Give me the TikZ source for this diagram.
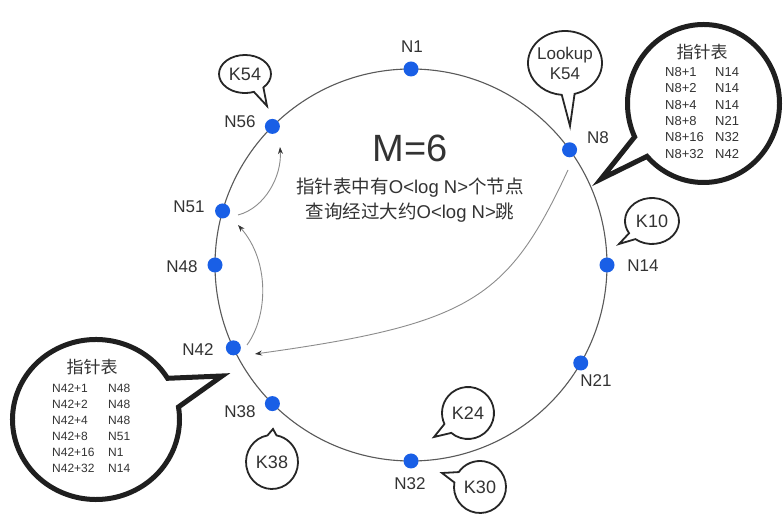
\documentclass[tikz,border=0pt]{standalone}
\usepackage{fontspec}
\setmainfont{Liberation Sans}
\newfontfamily\cjk{Noto Sans CJK SC}
\usetikzlibrary{arrows.meta,calc}
\definecolor{dotblue}{RGB}{25,95,230}
\definecolor{txt}{RGB}{51,51,51}
\begin{document}
\begin{tikzpicture}[x=1pt,y=1pt,
  ring/.style={draw=black!65, line width=1.1pt},
  ndot/.style={circle, fill=dotblue, minimum size=15pt, inner sep=0pt},
  nlabel/.style={font=\fontsize{17}{19}\selectfont, text=txt, inner sep=0pt},
  hop/.style={draw=black!45, line width=0.9pt, -{Stealth[length=7pt,width=5pt,color=black!80]}},
  bigbubble/.style={draw=black!88, line width=5pt, fill=white, line join=miter},
  smallbubble/.style={draw=black!85, line width=1.8pt, fill=white, line join=miter},
  ktext/.style={font=\fontsize{18}{21}\selectfont, text=txt, inner sep=0pt, align=center},
  tabtext/.style={text=txt, inner sep=0pt, anchor=north west, align=left},
  tabtitle/.style={font=\cjk\fontsize{17}{19}\selectfont, text=txt, inner sep=0pt},
]
\useasboundingbox (0,0) rectangle (784,516);
\fill[white] (0,0) rectangle (784,516);

% ring
\coordinate (c) at (411,251);
\draw[ring] (c) circle[radius=196];

% hops
\coordinate (h1s) at (568,346);
\coordinate (h1e) at (255,162);
\coordinate (h2s) at (247,171);
\coordinate (h2e) at (238,291);
\coordinate (h3s) at (238,301);
\coordinate (h3e) at (280,369);
\draw[hop] (h1s) .. controls (508,217) and (471,192) .. (h1e);
\draw[hop] (h2s) .. controls (268,200) and (270,255) .. (h2e);
\draw[hop] (h3s) .. controls (265,308) and (282,340) .. (h3e);

% dots
\node[ndot] (n1)  at ($(c)+(90:196)$) {};
\node[ndot] (n8)  at ($(c)+(36:196)$) {};
\node[ndot] (n14) at ($(c)+(0:196)$) {};
\node[ndot] (n21) at ($(c)+(-30:196)$) {};
\node[ndot] (n32) at ($(c)+(-90:196)$) {};
\node[ndot] (n38) at ($(c)+(-135:196)$) {};
\node[ndot] (n42) at ($(c)+(-155:196)$) {};
\node[ndot] (n48) at ($(c)+(180:196)$) {};
\node[ndot] (n51) at ($(c)+(164:196)$) {};
\node[ndot] (n56) at ($(c)+(135:196)$) {};

% labels
\node[nlabel] (l1)  at (412,469) {N1};
\node[nlabel] (l8)  at (598,378) {N8};
\node[nlabel] (l14) at (643,250) {N14};
\node[nlabel] (l21) at (596,135) {N21};
\node[nlabel] (l32) at (410,32) {N32};
\node[nlabel] (l38) at (240,104) {N38};
\node[nlabel] (l42) at (198,166) {N42};
\node[nlabel] (l48) at (182,249) {N48};
\node[nlabel] (l51) at (189,309) {N51};
\node[nlabel] (l56) at (240,394) {N56};

% centre text
\node[font=\fontsize{38}{40}\selectfont, text=txt, inner sep=0pt] (m) at (410,368) {M=6};
\node[font=\fontsize{18.5}{25}\selectfont, text=txt, inner sep=0pt, align=center] (desc) at (410,315.5)
  {{\cjk 指针表中有}O<log N>{\cjk 个节点}\\{\cjk 查询经过大约}O<log N>{\cjk 跳}};

% small bubbles
\coordinate (kc1) at (245,442); \coordinate (kt1) at (267,410);
\draw[smallbubble] ($(kc1)+(-45:26 and 19)$) arc[start angle=-45, end angle=290, x radius=26, y radius=19] -- (kt1) -- cycle;
\node[ktext] (k54) at (kc1) {K54};

\coordinate (kc2) at (565,453); \coordinate (kt2) at (570,390);
\draw[smallbubble] ($(kc2)+(-75:37 and 32)$) arc[start angle=-75, end angle=265, x radius=37, y radius=32] -- (kt2) -- cycle;
\node[ktext, font=\fontsize{17}{20}\selectfont] (lk) at (kc2) {Lookup\\K54};

\coordinate (kc3) at (652,295); \coordinate (kt3) at (619,272);
\draw[smallbubble] ($(kc3)+(232:27 and 23)$) arc[start angle=232, end angle=572, x radius=27, y radius=23] -- (kt3) -- cycle;
\node[ktext] (k10) at (kc3) {K10};

\coordinate (kc4) at (468,103); \coordinate (kt4) at (434,79);
\draw[smallbubble] ($(kc4)+(230:26 and 26)$) arc[start angle=230, end angle=565, x radius=26, y radius=26] -- (kt4) -- cycle;
\node[ktext] (k24) at (kc4) {K24};

\coordinate (kc5) at (480,29); \coordinate (kt5) at (442,43);
\draw[smallbubble] ($(kc5)+(170:26 and 26)$) arc[start angle=170, end angle=505, x radius=26, y radius=26] -- (kt5) -- cycle;
\node[ktext] (k30) at (kc5) {K30};

\coordinate (kc6) at (272,54); \coordinate (kt6) at (273,87);
\draw[smallbubble] ($(kc6)+(100:26 and 27)$) arc[start angle=100, end angle=440, x radius=26, y radius=27] -- (kt6) -- cycle;
\node[ktext] (k38) at (kc6) {K38};

% big bubble upper right
\coordinate (bc1) at (703.5,412.5); \coordinate (bt1) at (601,337);
\draw[bigbubble] ($(bc1)+(222:76 and 79)$) arc[start angle=222, end angle=565, x radius=76, y radius=79] -- (bt1) -- cycle;
\node[tabtitle] (t1) at (702,464) {指针表};
\node[tabtext, font=\fontsize{13}{16.3}\selectfont] (tab1) at (665,451) {\begin{tabular}{@{}p{50pt}@{}l@{}}
N8+1 & N14\\ N8+2 & N14\\ N8+4 & N14\\ N8+8 & N21\\ N8+16 & N32\\ N8+32 & N42
\end{tabular}};

% big bubble lower left
\coordinate (bc2) at (96,96.5); \coordinate (bt2) at (222,140);
\draw[bigbubble] ($(bc2)+(31:83.5 and 80)$) arc[start angle=31, end angle=369, x radius=83.5, y radius=80] -- (bt2) -- cycle;
\node[tabtitle] (t2) at (92,149) {指针表};
\node[tabtext, font=\fontsize{12}{16}\selectfont] (tab2) at (52,135) {\begin{tabular}{@{}p{56pt}@{}l@{}}
N42+1 & N48\\ N42+2 & N48\\ N42+4 & N48\\ N42+8 & N51\\ N42+16 & N1\\ N42+32 & N14
\end{tabular}};
\end{tikzpicture}
\end{document}
